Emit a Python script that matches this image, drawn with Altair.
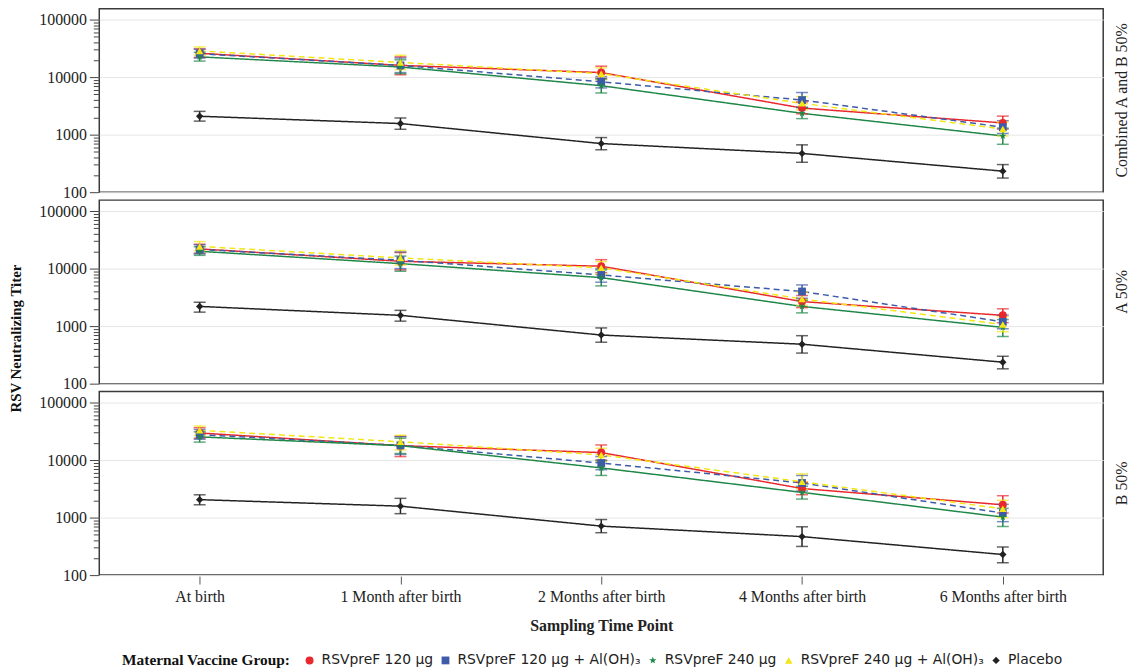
import altair as alt
import pandas as pd

# ---------------- data ----------------
times = ["At birth", "1 Month after birth", "2 Months after birth",
         "4 Months after birth", "6 Months after birth"]
panels = ["Combined A and B 50%", "A 50%", "B 50%"]
groups = ["RSVpreF 120 µg", "RSVpreF 120 µg + Al(OH)₃", "RSVpreF 240 µg",
          "RSVpreF 240 µg + Al(OH)₃", "Placebo"]

# order of inner lists follows `groups`; values follow `times`
gmt_combined = [
    [26000, 16000, 12000, 2900, 1600],
    [25500, 16000, 8300, 4000, 1350],
    [22500, 15000, 7100, 2350, 950],
    [28500, 18000, 11500, 3500, 1250],
    [2090, 1560, 700, 472, 232],
]
lo_combined = [
    [22000, 11000, 9500, 2300, 1250],
    [21500, 12000, 6500, 3000, 1050],
    [19000, 11500, 5300, 1900, 680],
    [24000, 13500, 9000, 2700, 950],
    [1720, 1240, 546, 331, 176],
]
hi_combined = [
    [31000, 22500, 15500, 3700, 2100],
    [30500, 21500, 10200, 5400, 1750],
    [27000, 20000, 9300, 2950, 1300],
    [33500, 24000, 14500, 4600, 1650],
    [2540, 1950, 890, 665, 302],
]

gmt_a = [
    [22000, 13400, 11000, 2670, 1540],
    [21500, 14000, 7750, 4000, 1190],
    [20000, 12200, 6970, 2200, 950],
    [24300, 15300, 10300, 2970, 1065],
    [2200, 1540, 700, 485, 236],
]
lo_a = [
    [18500, 9500, 8500, 2100, 1150],
    [18000, 10000, 5800, 3050, 900],
    [17000, 9000, 5000, 1700, 660],
    [20500, 11500, 8000, 2300, 800],
    [1750, 1220, 525, 340, 181],
]
hi_a = [
    [26500, 19000, 14300, 3400, 2000],
    [26000, 19500, 10000, 5200, 1550],
    [24000, 16500, 9500, 2800, 1300],
    [29500, 20700, 13200, 3900, 1450],
    [2600, 1880, 930, 682, 299],
]

gmt_b = [
    [29600, 17800, 13500, 3200, 1670],
    [27700, 18000, 8870, 4000, 1200],
    [25300, 17800, 7300, 2740, 1020],
    [32900, 20800, 12300, 4200, 1420],
    [2050, 1580, 711, 467, 228],
]
lo_b = [
    [24000, 11500, 10000, 2500, 1200],
    [23000, 12500, 6800, 2900, 850],
    [20500, 13000, 5400, 2100, 700],
    [27000, 15000, 9500, 3100, 1000],
    [1670, 1170, 546, 315, 164],
]
hi_b = [
    [36500, 26000, 18300, 4100, 2400],
    [34000, 25500, 11500, 5400, 1700],
    [31000, 24000, 9800, 3500, 1450],
    [39000, 27000, 16000, 5750, 2000],
    [2490, 2160, 925, 692, 308],
]

y_ticks = [m * 10 ** e for e in range(2, 6) for m in range(1, 10) if m * 10 ** e <= 100000]

# ---------------- styles ----------------
colors = ["#E8282C", "#3D5BA8", "#1F8748", "#F2E613", "#222222"]
STAR = ("M0,-1L0.235,-0.324L0.951,-0.309L0.38,0.124L0.588,0.809L0,0.4"
        "L-0.588,0.809L-0.38,0.124L-0.951,-0.309L-0.235,-0.324Z")
shapes = ["circle", "square", STAR, "triangle-up", "diamond"]
marker_sizes = [64, 55, 120, 75, 50]
dashes = [[1, 0], [6, 4], [1, 0], [6, 4], [1, 0]]
SERIF = "Liberation Serif"
SANS = "DejaVu Sans"

tables = [(gmt_combined, lo_combined, hi_combined),
          (gmt_a, lo_a, hi_a),
          (gmt_b, lo_b, hi_b)]
rows = []
for p, panel in enumerate(panels):
    g_t, l_t, h_t = tables[p]
    for g, group in enumerate(groups):
        for t, time in enumerate(times):
            rows.append({"panel": panel, "group": group, "time": time,
                         "gmt": g_t[g][t], "lo": l_t[g][t], "hi": h_t[g][t]})
df = pd.DataFrame(rows)

major_test = "indexof([100,1000,10000,100000], datum.value) >= 0"

x_enc = alt.X("time:N", sort=times,
              scale=alt.Scale(type="point", padding=0.5),
              axis=alt.Axis(title="Sampling Time Point", labelAngle=0,
                            labelFont=SERIF, labelFontSize=16, labelColor="#222",
                            titleFont=SERIF, titleFontSize=16, titleFontWeight="bold",
                            titleColor="#222", tickSize=8, labelPadding=5,
                            titlePadding=13, grid=False, domain=False,
                            tickColor="#555"))
y_scale = alt.Scale(type="log", domain=[100, 155000], nice=False)
y_axis = alt.Axis(title=None, values=y_ticks, format="d",
                  labelExpr="indexof([100,1000,10000,100000], datum.value) >= 0 ? datum.label : ''",
                  labelFont=SERIF, labelFontSize=16, labelColor="#222",
                  labelFlush=False, labelOverlap=False, labelBound=False,
                  tickSize={"condition": {"test": major_test, "value": 9}, "value": 5},
                  gridOpacity={"condition": {"test": major_test, "value": 1}, "value": 0},
                  gridColor="#e6e6e6", tickColor="#444", domain=False, labelPadding=3)

legend = alt.Legend(orient="none", legendX=23, legendY=650, direction="horizontal",
                    titleOrient="left")
color_enc = alt.Color("group:N", sort=groups,
                      scale=alt.Scale(domain=groups, range=colors),
                      title="Maternal Vaccine Group:", legend=legend)
shape_enc = alt.Shape("group:N", sort=groups,
                      scale=alt.Scale(domain=groups, range=shapes),
                      title="Maternal Vaccine Group:", legend=legend)
size_enc = alt.Size("group:N", sort=groups,
                    scale=alt.Scale(domain=groups, range=marker_sizes),
                    legend=None)
dash_enc = alt.StrokeDash("group:N", sort=groups,
                          scale=alt.Scale(domain=groups, range=dashes),
                          legend=None)

base = alt.Chart()

lines = base.mark_line(strokeWidth=1.5).encode(
    x=x_enc, y=alt.Y("gmt:Q", scale=y_scale, axis=y_axis),
    color=color_enc, strokeDash=dash_enc)

bars = base.mark_rule(strokeWidth=1.5).encode(
    x=x_enc, y=alt.Y("lo:Q", scale=y_scale), y2="hi:Q", color=color_enc)

caps_lo = base.mark_tick(size=12, thickness=1.5).encode(
    x=x_enc, y=alt.Y("lo:Q", scale=y_scale), color=color_enc)
caps_hi = base.mark_tick(size=12, thickness=1.5).encode(
    x=x_enc, y=alt.Y("hi:Q", scale=y_scale), color=color_enc)

points = base.mark_point(filled=True, opacity=1).encode(
    x=x_enc, y=alt.Y("gmt:Q", scale=y_scale),
    color=color_enc, shape=shape_enc, size=size_enc)

layered = alt.layer(lines, bars, caps_lo, caps_hi, points).properties(
    width=1012, height=185)

chart = layered.facet(
    data=df,
    row=alt.Row("panel:N", sort=panels,
                header=alt.Header(title=None, labelOrient="right", labelAngle=-90,
                                  labelFont=SERIF, labelFontSize=16,
                                  labelColor="#222", labelPadding=2)),
    spacing=6,
).properties(
    title=alt.TitleParams("RSV Neutralizing Titer", orient="left", anchor="middle",
                          font=SERIF, fontSize=15, fontWeight="bold", color="#111",
                          offset=15),
    padding={"left": 0, "top": -3, "right": 0, "bottom": 0},
).configure_view(
    stroke="#3a3a3a", strokeWidth=1.5
).configure_legend(
    titleFont=SERIF, titleFontSize=15.5, titleFontWeight="bold", titleColor="#111",
    titlePadding=12, titleLimit=400,
    labelFont=SANS, labelFontSize=14, labelColor="#222", labelLimit=400,
    symbolSize=100, symbolOpacity=1, columnPadding=5, labelOffset=5,
    symbolStrokeWidth=0
)

chart.save("out.html", embed_options={"renderer": "svg", "actions": False})
